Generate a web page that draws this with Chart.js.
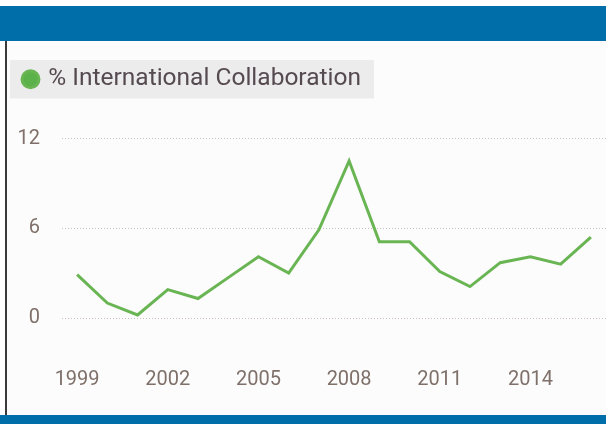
<!DOCTYPE html>
<html>
<head>
<meta charset="utf-8">
<script src="https://cdn.jsdelivr.net/npm/chart.js@4/dist/chart.umd.min.js"></script>
<style>
  html, body { margin: 0; padding: 0; background: #ffffff; width: 606px; height: 424px; overflow: hidden; }
  #topbar { position: absolute; left: 0; top: 6px; width: 606px; height: 35px; background: #006fa9; }
  #bottombar { position: absolute; left: 0; top: 415px; width: 606px; height: 9px; background: #006fa9; }
  #leftline { position: absolute; left: 5px; top: 41px; width: 2px; height: 374px; background: #3a3a3a; }
  #wrap { position: absolute; left: 7px; top: 41px; width: 599px; height: 374px; background: #fcfcfc; }
</style>
</head>
<body>
<div id="topbar"></div>
<div id="leftline"></div>
<div id="wrap"><canvas id="c" width="599" height="374"></canvas></div>
<div id="bottombar"></div>
<script>
const years = ['1999','2000','2001','2002','2003','2004','2005','2006','2007','2008','2009','2010','2011','2012','2013','2014','2015','2016'];
const intlCollab = [2.9, 1.0, 0.2, 1.9, 1.3, 2.7, 4.1, 3.0, 5.9, 10.5, 5.1, 5.1, 3.1, 2.1, 3.7, 4.1, 3.6, 5.4];
const yTicks = [0, 6, 12];
const seriesLabel = '% International Collaboration';

const legendBg = {
  id: 'legendBg',
  beforeDraw(chart) {
    const lg = chart.legend;
    if (!lg || !lg.legendHitBoxes || !lg.legendHitBoxes.length) return;
    const hb = lg.legendHitBoxes[0];
    const ctx = chart.ctx;
    ctx.save();
    ctx.fillStyle = '#ececec';
    ctx.fillRect(hb.left - 15, hb.top - 7, hb.width + 28, hb.height + 14);
    ctx.restore();
  }
};

new Chart(document.getElementById('c'), {
  type: 'line',
  data: {
    labels: years,
    datasets: [{
      label: seriesLabel,
      data: intlCollab,
      borderColor: '#6ab553',
      backgroundColor: '#5cb24a',
      borderWidth: 3,
      pointRadius: 0,
      tension: 0,
      fill: false
    }]
  },
  options: {
    responsive: false,
    animation: false,
    layout: { padding: { top: 8, left: 0, right: 0, bottom: 0 } },
    plugins: {
      legend: {
        display: true,
        position: 'top',
        align: 'start',
        labels: {
          usePointStyle: true,
          pointStyle: 'circle',
          boxHeight: 12,
          boxWidth: 11,
          padding: 18,
          color: '#554a50',
          font: { family: 'Roboto', size: 24.5 }
        }
      },
      title: {
        display: true,
        text: '',
        weight: 500,
        padding: 0,
        font: { size: 37, lineHeight: 1 }
      },
      tooltip: { enabled: false }
    },
    scales: {
      x: {
        offset: true,
        grid: { display: true, drawOnChartArea: false, drawTicks: true, tickLength: 46, color: 'rgba(0,0,0,0)' },
        border: { display: false },
        ticks: {
          autoSkip: false,
          maxRotation: 0,
          padding: 4,
          color: '#7f706a',
          font: { family: 'Roboto', size: 20 },
          callback: function(v, i) { return i % 3 === 0 ? years[i] : ''; }
        },
        afterFit(scale) { scale.height = 97; }
      },
      y: {
        min: 0,
        max: 12,
        afterBuildTicks(scale) { scale.ticks = yTicks.map(v => ({ value: v })); },
        grid: { color: '#cbbfba', lineWidth: 1, drawTicks: false },
        border: { display: false, dash: [1, 2] },
        ticks: {
          padding: 22,
          color: '#7f706a',
          font: { family: 'Roboto', size: 20 }
        },
        afterFit(scale) { scale.width = 55; }
      }
    }
  },
  plugins: [legendBg]
});
</script>
</body>
</html>
